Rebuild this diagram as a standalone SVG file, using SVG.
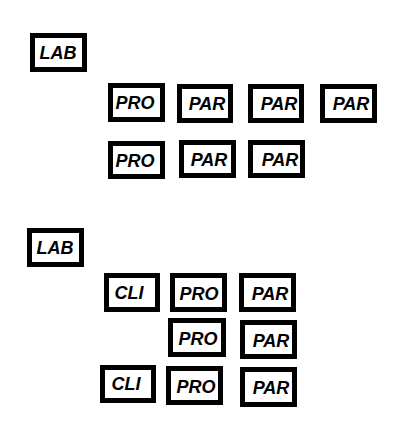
<svg xmlns="http://www.w3.org/2000/svg" width="415" height="422" viewBox="0 0 415 422">
<style>
.b{fill:#fff;stroke:#000;stroke-width:5}
.t{font-family:"Liberation Sans",Arial,sans-serif;font-weight:bold;font-style:italic;font-size:18px;text-anchor:middle;fill:#000}
</style>
<rect width="415" height="422" fill="#fff"/>
<g id="n1"><rect class="b" x="32.5" y="35.5" width="52" height="34"/><text class="t" x="58" y="58.5">LAB</text></g>
<g id="n2"><rect class="b" x="110.5" y="85.5" width="52" height="34"/><text class="t" x="135" y="109">PRO</text></g>
<g id="n3"><rect class="b" x="179.5" y="86.5" width="51" height="34"/><text class="t" x="207" y="110">PAR</text></g>
<g id="n4"><rect class="b" x="250.5" y="86.5" width="51" height="34"/><text class="t" x="279" y="110">PAR</text></g>
<g id="n5"><rect class="b" x="322.5" y="86.5" width="52" height="34"/><text class="t" x="351" y="110">PAR</text></g>
<g id="n6"><rect class="b" x="110.5" y="143.5" width="52" height="33"/><text class="t" x="135" y="166.5">PRO</text></g>
<g id="n7"><rect class="b" x="181.5" y="142.5" width="52" height="33"/><text class="t" x="209" y="165.5">PAR</text></g>
<g id="n8"><rect class="b" x="250.5" y="142.5" width="52" height="33"/><text class="t" x="280" y="165.5">PAR</text></g>
<g id="n9"><rect class="b" x="29.5" y="230.5" width="52" height="34"/><text class="t" x="55" y="253.5">LAB</text></g>
<g id="n10"><rect class="b" x="106.5" y="275.5" width="51" height="34"/><text class="t" x="129" y="298.5">CLI</text></g>
<g id="n11"><rect class="b" x="172.5" y="275.5" width="52" height="34"/><text class="t" x="199" y="299.5">PRO</text></g>
<g id="n12"><rect class="b" x="241.5" y="275.5" width="52" height="34"/><text class="t" x="270" y="299.5">PAR</text></g>
<g id="n13"><rect class="b" x="170.5" y="320.5" width="53" height="34"/><text class="t" x="198" y="344.5">PRO</text></g>
<g id="n14"><rect class="b" x="242.5" y="322.5" width="52" height="34"/><text class="t" x="271" y="346.5">PAR</text></g>
<g id="n15"><rect class="b" x="102.5" y="367.5" width="51" height="33"/><text class="t" x="126" y="390">CLI</text></g>
<g id="n16"><rect class="b" x="168.5" y="368.5" width="52" height="34"/><text class="t" x="196" y="392.5">PRO</text></g>
<g id="n17"><rect class="b" x="242.5" y="369.5" width="52" height="35"/><text class="t" x="271" y="393.5">PAR</text></g>
<g id="connectors"/>
</svg>
